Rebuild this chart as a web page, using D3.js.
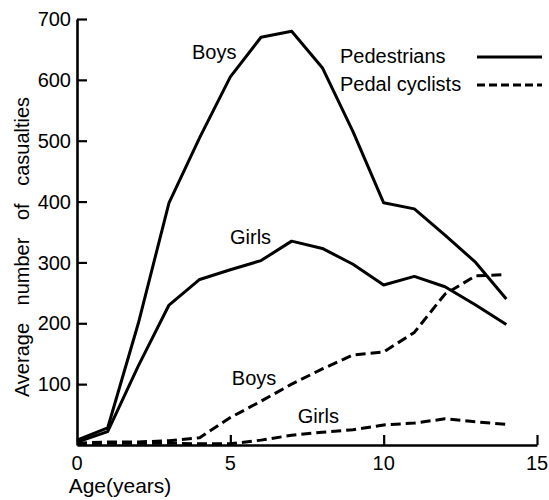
<!DOCTYPE html>
<meta charset="utf-8">
<script src="https://cdn.jsdelivr.net/npm/d3@7/dist/d3.min.js"></script>
<style>
  body { margin: 0; background: #fff; }
  text { font-family: "Liberation Sans", Arial, sans-serif; fill: #000; }
</style>
<div id="js_chart"></div>
<script>

// ******************************************
// data
// ******************************************
const ages = [0, 1, 2, 3, 4, 5, 6, 7, 8, 9, 10, 11, 12, 13, 14];
const pedBoys  = [8, 28, 200, 398, 505, 605, 670, 680, 620, 515, 398, 388, 345, 300, 240];
const pedGirls = [5, 22, 130, 230, 272, 288, 303, 335, 323, 297, 263, 277, 260, 230, 198];
const cycBoys  = [3, 5, 5, 7, 12, 45, 72, 100, 125, 148, 153, 185, 248, 278, 280];
const cycGirls = [2, 3, 3, 3, 2, 2, 8, 16, 21, 25, 33, 36, 43, 38, 34];

const xTicks = [0, 5, 10, 15];
const yTicks = [100, 200, 300, 400, 500, 600, 700];

const seriesLabels = [
    {text: "Boys",  age: 3.75, value: 634},
    {text: "Girls", age: 4.99, value: 330},
    {text: "Boys",  age: 5.05, value: 98},
    {text: "Girls", age: 7.2,  value: 36}
];
const legendItems = [
    {text: "Pedestrians", dashed: false},
    {text: "Pedal cyclists", dashed: true}
];

// ******************************************
// settings
// ******************************************
let width = 549, height = 500;

let x = d3.scaleLinear().domain([0, 15]).range([77, 537]);
let y = d3.scaleLinear().domain([0, 700]).range([445, 19]);

let svg = d3.select("#js_chart")
    .append("svg")
    .attr("width", width)
    .attr("height", height);

// axes (ticks point inwards, like the original)
svg.append("g")
    .attr("transform", "translate(0," + y(0) + ")")
    .call(d3.axisTop(x).tickValues(xTicks.slice(1)).tickSize(10).tickSizeOuter(0).tickFormat(""))
    .call(g => g.select(".domain").attr("stroke-width", 2.6))
    .call(g => g.selectAll(".tick line").attr("stroke-width", 2.2));

svg.append("g")
    .attr("transform", "translate(" + x(0) + ",0)")
    .call(d3.axisRight(y).tickValues(yTicks).tickSize(10).tickSizeOuter(0).tickFormat(""))
    .call(g => g.select(".domain").attr("stroke-width", 2.6))
    .call(g => g.selectAll(".tick line").attr("stroke-width", 2.2));

// tick labels
svg.append("g").selectAll("text")
    .data(xTicks)
    .join("text")
    .attr("x", d => x(d))
    .attr("y", 470)
    .attr("text-anchor", "middle")
    .attr("font-size", 20)
    .text(d => d);

svg.append("g").selectAll("text")
    .data(yTicks)
    .join("text")
    .attr("x", 71)
    .attr("y", d => y(d))
    .attr("dy", "0.36em")
    .attr("text-anchor", "end")
    .attr("font-size", 20)
    .text(d => d);

// axis titles
svg.append("text")
    .attr("x", 120)
    .attr("y", 493)
    .attr("text-anchor", "middle")
    .attr("font-size", 21)
    .text("Age(years)");

svg.append("text")
    .attr("transform", "translate(29,247) rotate(-90)")
    .attr("text-anchor", "middle")
    .attr("font-size", 20)
    .attr("word-spacing", 12)
    .text("Average number of casualties");

// ******************************************
// lines
// ******************************************
let line = d3.line()
    .x((d, i) => x(ages[i]))
    .y(d => y(d));

[[pedBoys, false], [pedGirls, false], [cycBoys, true], [cycGirls, true]].forEach(function (s) {
    svg.append("path")
        .attr("d", line(s[0]))
        .attr("fill", "none")
        .attr("stroke", "#000")
        .attr("stroke-width", 3)
        .attr("stroke-linejoin", "round")
        .attr("stroke-dasharray", s[1] ? "10,5" : null);
});

svg.append("g").selectAll("text")
    .data(seriesLabels)
    .join("text")
    .attr("x", d => x(d.age))
    .attr("y", d => y(d.value))
    .attr("font-size", 20)
    .text(d => d.text);

// legend
let legend = svg.append("g").selectAll("g")
    .data(legendItems)
    .join("g")
    .attr("transform", (d, i) => "translate(0," + (57 + i * 28) + ")");

legend.append("text")
    .attr("x", 340)
    .attr("y", 6)
    .attr("font-size", 20)
    .text(d => d.text);

legend.append("line")
    .attr("x1", 477).attr("x2", 542)
    .attr("stroke", "#000")
    .attr("stroke-width", 3)
    .attr("stroke-dasharray", d => d.dashed ? "8,4" : null);

</script>
